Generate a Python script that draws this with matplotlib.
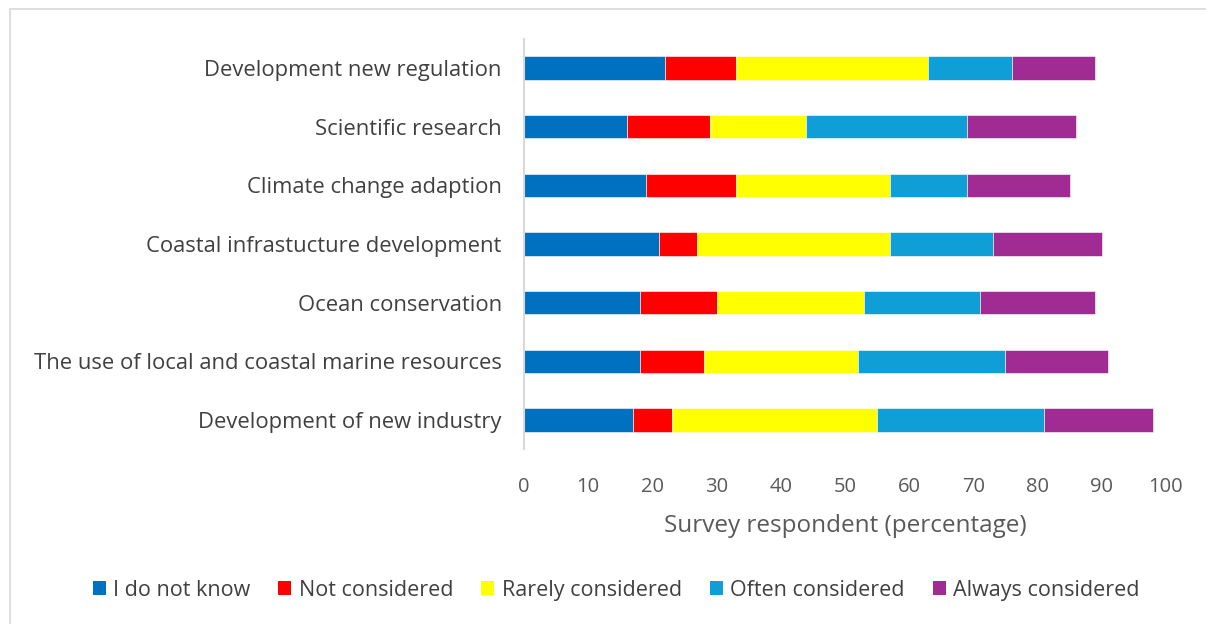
import numpy as np
import matplotlib
matplotlib.use("Agg")
import matplotlib.pyplot as plt
from matplotlib.patches import Patch, Rectangle

# Categories top to bottom
categories = [
    "Development new regulation",
    "Scientific research",
    "Climate change adaption",
    "Coastal infrastucture development",
    "Ocean conservation",
    "The use of local and coastal marine resources",
    "Development of new industry",
]

# Share of respondents per answer (%)
do_not_know = [22, 16, 19, 21, 18, 18, 17]
not_considered = [11, 13, 14, 6, 12, 10, 6]
rarely = [30, 15, 24, 30, 23, 24, 32]
often = [13, 25, 12, 16, 18, 23, 26]
always = [13, 17, 16, 17, 18, 16, 17]

series_names = ["I do not know", "Not considered", "Rarely considered",
                "Often considered", "Always considered"]
series_colors = ["#0070C0", "#FF0000", "#FFFF00", "#0F9ED5", "#A02B93"]

plt.rcParams["font.family"] = ["Open Sans", "DejaVu Sans"]
TEXT = "#404040"
TICK = "#595959"

fig = plt.figure(figsize=(12.06, 6.24), dpi=100)
ax = fig.add_axes([0.4345, 0.2799, 0.5323, 0.6582])

y = np.arange(len(categories))
left = np.zeros(len(categories))
for vals, name, col in zip([do_not_know, not_considered, rarely, often, always],
                           series_names, series_colors):
    ax.barh(y, vals, left=left, height=0.4, color=col, edgecolor="white",
            linewidth=0.4, label=name)
    left += np.array(vals)

ax.set_ylim(len(categories) - 0.5, -0.5)
ax.set_xlim(0, 100)
ax.set_xticks(range(0, 101, 10))
ax.set_yticks(y)
ax.set_yticklabels(categories, fontsize=15.8, color=TEXT)
ax.tick_params(axis="x", labelsize=14.5, labelcolor=TICK, length=0, pad=20)
ax.tick_params(axis="y", length=0, pad=16)
for s in ["top", "right", "bottom"]:
    ax.spines[s].set_visible(False)
ax.spines["left"].set_color("#D9D9D9")
ax.spines["left"].set_linewidth(1.5)
ax.set_xlabel("Survey respondent (percentage)", fontsize=17.5, color=TICK, labelpad=12)

handles = [Patch(facecolor=c, label=n) for n, c in zip(series_names, series_colors)]
fig.legend(handles=handles, loc="center", bbox_to_anchor=(0.511, 0.054), ncol=5,
           frameon=False, fontsize=15.5, handlelength=0.6, handleheight=0.6,
           handletextpad=0.35, columnspacing=1.3, labelcolor=TEXT)

# light chart-area border
fig.patches.append(Rectangle((0.008, -0.01), 1.1, 0.996, transform=fig.transFigure,
                             fill=False, edgecolor="#D9D9D9", linewidth=1.2))

fig.savefig("out.png", dpi=100)
